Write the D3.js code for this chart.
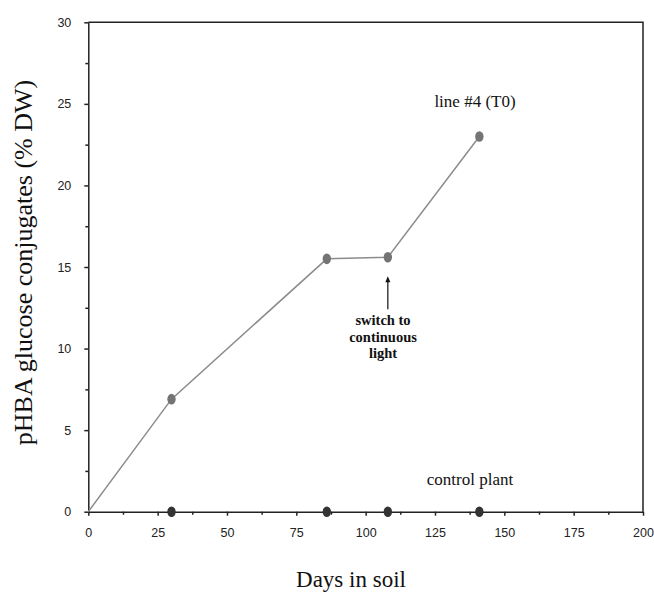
<!DOCTYPE html>
<html lang="en">
<head>
<meta charset="UTF-8">
<script src="https://cdn.jsdelivr.net/npm/d3@7"></script>
<title>pHBA glucose conjugates</title>
<style>
    body { margin: 0; background: #fff; }
    .tick text { font-family: "Liberation Sans", Arial, sans-serif; font-size: 12.5px; fill: #222; }
    .axis path, .axis line { stroke: #222; stroke-width: 1.5; }
    .serif { font-family: "Liberation Serif", "Times New Roman", serif; fill: #111; }
</style>
</head>
<body>
<div id="container"></div>
<script>
    // line #4 (T0), measured days and % DW
    const lineDays = [0, 30, 86, 108, 141];
    const lineValues = [0, 6.9, 15.5, 15.6, 23.0];
    // control plant
    const controlDays = [30, 86, 108, 141];
    const controlValues = [0, 0, 0, 0];

    const xTicks = [0, 25, 50, 75, 100, 125, 150, 175, 200];
    const yTicks = [0, 5, 10, 15, 20, 25, 30];
    const switchDay = 108;

    const width = 654, height = 592;
    const plotLeft = 88.3, plotRight = 643, plotTop = 22.3, plotBottom = 511.7;

    const x = d3.scaleLinear().domain([0, 200]).range([plotLeft, plotRight]);
    const y = d3.scaleLinear().domain([0, 30]).range([plotBottom, plotTop]);

    const svg = d3.select("#container").append("svg")
        .attr("width", width)
        .attr("height", height);

    // frame: top and right
    svg.append("path")
        .attr("d", `M${plotLeft},${plotTop}H${plotRight}V${plotBottom}`)
        .attr("fill", "none")
        .attr("stroke", "#222")
        .attr("stroke-width", 1.5);

    // minor ticks
    svg.append("g").attr("class", "axis")
        .attr("transform", `translate(0,${plotBottom})`)
        .call(d3.axisBottom(x).tickValues(d3.range(12.5, 200, 25)).tickSize(3).tickFormat(""))
        .select(".domain").remove();
    svg.append("g").attr("class", "axis")
        .attr("transform", `translate(${plotLeft},0)`)
        .call(d3.axisLeft(y).tickValues(d3.range(2.5, 30, 5)).tickSize(3).tickFormat(""))
        .select(".domain").remove();

    // major axes
    svg.append("g").attr("class", "axis")
        .attr("transform", `translate(0,${plotBottom})`)
        .call(d3.axisBottom(x).tickValues(xTicks).tickSize(4).tickSizeOuter(0).tickPadding(12));
    svg.append("g").attr("class", "axis")
        .attr("transform", `translate(${plotLeft},0)`)
        .call(d3.axisLeft(y).tickValues(yTicks).tickSize(4).tickSizeOuter(0).tickPadding(13));

    // line #4
    const pts = lineDays.map((d, i) => [d, lineValues[i]]);
    svg.append("path")
        .datum(pts)
        .attr("fill", "none")
        .attr("stroke", "#8c8c8c")
        .attr("stroke-width", 1.5)
        .attr("d", d3.line().x(d => x(d[0])).y(d => y(d[1])));

    svg.selectAll("ellipse.line4")
        .data(pts.slice(1))
        .join("ellipse")
        .attr("class", "line4")
        .attr("cx", d => x(d[0]))
        .attr("cy", d => y(d[1]))
        .attr("rx", 4.2)
        .attr("ry", 5.3)
        .attr("fill", "#747474");

    svg.selectAll("ellipse.control")
        .data(controlDays.map((d, i) => [d, controlValues[i]]))
        .join("ellipse")
        .attr("class", "control")
        .attr("cx", d => x(d[0]))
        .attr("cy", d => y(d[1]))
        .attr("rx", 4.2)
        .attr("ry", 5.3)
        .attr("fill", "#333");

    // labels
    svg.append("text").attr("class", "serif")
        .attr("x", 475).attr("y", 107)
        .attr("text-anchor", "middle")
        .attr("font-size", 17)
        .text("line #4 (T0)");

    svg.append("text").attr("class", "serif")
        .attr("x", 470).attr("y", 485)
        .attr("text-anchor", "middle")
        .attr("font-size", 17)
        .text("control plant");

    // arrow for switch to continuous light
    const ax = x(switchDay), ay = y(lineValues[3]);
    svg.append("line")
        .attr("x1", ax).attr("x2", ax)
        .attr("y1", ay + 22).attr("y2", ay + 52)
        .attr("stroke", "#111").attr("stroke-width", 1.2);
    svg.append("path")
        .attr("d", `M${ax},${ay + 19}l-2.5,6h5z`)
        .attr("fill", "#111");

    const sw = svg.append("text").attr("class", "serif")
        .attr("text-anchor", "middle")
        .attr("font-size", 14.5)
        .attr("font-weight", "bold");
    ["switch to", "continuous", "light"].forEach((t, i) => {
        sw.append("tspan").attr("x", 383).attr("y", 325 + i * 16.5).text(t);
    });

    // axis titles
    svg.append("text").attr("class", "serif")
        .attr("x", 351).attr("y", 587)
        .attr("text-anchor", "middle")
        .attr("font-size", 23)
        .text("Days in soil");

    svg.append("text").attr("class", "serif")
        .attr("transform", "translate(32,262.5) rotate(-90)")
        .attr("text-anchor", "middle")
        .attr("font-size", 26)
        .text("pHBA glucose conjugates (% DW)");
</script>
</body>
</html>
